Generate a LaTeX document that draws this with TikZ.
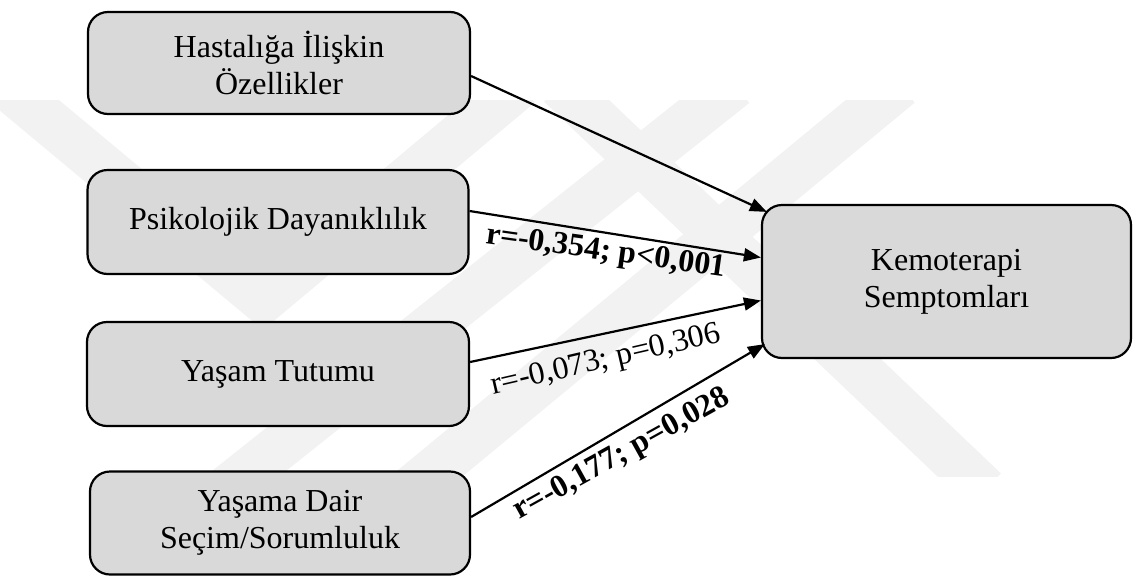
\documentclass[tikz,border=0pt]{standalone}
\usepackage{fontspec}
\setmainfont{Liberation Serif}
\usetikzlibrary{arrows.meta}
\definecolor{boxfill}{RGB}{217,217,217}
\definecolor{wm}{RGB}{242,242,242}
\tikzset{
  box/.style={draw=black, line width=2.2pt, fill=boxfill, rounded corners=20pt,
    align=center, inner sep=0pt, font=\fontsize{32}{37}\selectfont},
  arr/.style={draw=black, line width=2.2pt, -{Triangle[length=17pt,width=13pt]}},
  lab/.style={font=\fontsize{32}{37}\selectfont, inner sep=0pt},
  wmband/.style={draw=wm, line width=46pt, line cap=butt, line join=miter}
}
\begin{document}
\begin{tikzpicture}[x=1pt,y=-1pt]
\useasboundingbox (0,0) rectangle (1133,579);
% faint watermark
\begin{scope}
\clip (0,100) rectangle (1133,476);
\draw[wmband] (5,85) -- (263,300) -- (520,85);
\draw[wmband] (225,490) -- (735,85);
\draw[wmband] (410,490) -- (900,85);
\draw[wmband] (560,85) -- (985,490);
\end{scope}
% boxes
\node[box, minimum width=382pt, minimum height=102pt] (b1) at (279,63) {Hastalığa İlişkin\\Özellikler};
\node[box, minimum width=381pt, minimum height=104pt] (b2) at (278,222) {Psikolojik Dayanıklılık};
\node[box, minimum width=382pt, minimum height=104pt] (b3) at (278,374) {Yaşam Tutumu};
\node[box, minimum width=380pt, minimum height=103pt] (b4) at (280,523) {Yaşama Dair\\Seçim/Sorumluluk};
\node[box, minimum width=369pt, minimum height=153pt] (k) at (946.5,281.5) {Kemoterapi\\Semptomları};
% connectors
\draw[arr] ([yshift=-13pt]b1.east) -- ([xshift=6pt,yshift=-8pt]k.north west);
\draw[arr] ([yshift=11pt]b2.east) -- ([yshift=24pt]k.west);
\draw[arr] ([yshift=12pt]b3.east) -- ([yshift=-19pt]k.west);
\draw[arr] ([yshift=6pt]b4.east) -- ([xshift=4pt,yshift=15pt]k.south west);
% labels
\node[lab, rotate=-8] (l2) at (606,253) {\bfseries r=-0,354; p<0,001};
\node[lab, rotate=13] (l3) at (606,361) {r=-0,073; p=0,306};
\node[lab, rotate=29] (l4) at (622,455) {\bfseries r=-0,177; p=0,028};
\end{tikzpicture}
\end{document}
